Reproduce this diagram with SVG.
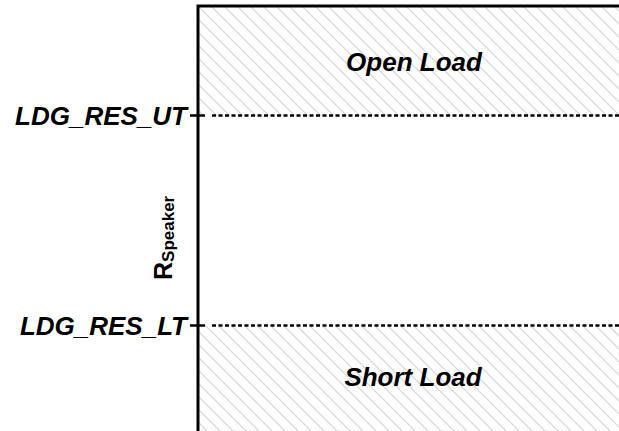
<svg xmlns="http://www.w3.org/2000/svg" width="619" height="431" viewBox="0 0 619 431">
<defs>
<pattern id="hatch" patternUnits="userSpaceOnUse" width="13" height="13" patternTransform="translate(198,6)">
<path d="M-1,-1 L14,14 M-14,-1 L1,14 M12,-1 L27,14" stroke="#d4d4d4" stroke-width="1.2" fill="none"/>
</pattern>
</defs>
<style>
.lbl{font-family:"Liberation Sans",Arial,sans-serif;font-weight:bold;font-style:italic;font-size:26px;fill:#000}
.axis{stroke:#000;stroke-width:3;fill:none}
.dash{stroke:#000;stroke-width:2.6;stroke-dasharray:4 2.5;fill:none}
</style>
<g id="open-load">
<rect x="198" y="6" width="421" height="110" fill="url(#hatch)"/>
<text class="lbl" x="414" y="71" text-anchor="middle">Open Load</text>
</g>
<g id="short-load">
<rect x="198" y="325" width="421" height="106" fill="url(#hatch)"/>
<text class="lbl" x="413" y="386" text-anchor="middle">Short Load</text>
</g>
<g id="axis">
<path class="axis" d="M198,431 L198,6 L619,6"/>
</g>
<g id="connectors">
<path d="M190,115.5 L205,115.5 M190,325.5 L205,325.5" stroke="#000" stroke-width="2.5"/>
<path class="dash" d="M212,115.5 L619,115.5"/>
<path class="dash" d="M212,325.5 L619,325.5"/>
</g>
<g id="ut-label"><text class="lbl" x="187" y="125" text-anchor="end">LDG_RES_UT</text></g>
<g id="lt-label"><text class="lbl" x="187" y="335" text-anchor="end">LDG_RES_LT</text></g>
<g id="r-label">
<text transform="translate(172,280) rotate(-90)" style="font-family:'Liberation Sans',Arial,sans-serif;font-weight:bold;font-size:25px">R<tspan dy="2" style="font-size:17px">Speaker</tspan></text>
</g>
</svg>
